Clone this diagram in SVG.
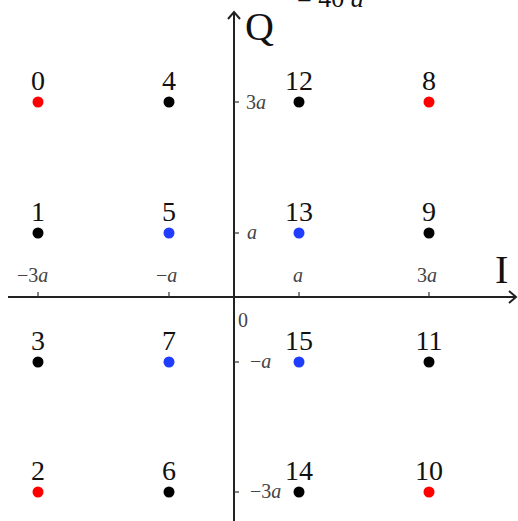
<svg xmlns="http://www.w3.org/2000/svg" width="518" height="521" viewBox="0 0 518 521">
<style>
.num{font-family:"Liberation Serif",serif;font-size:28px;fill:#111;text-anchor:middle}
.tk{font-family:"Liberation Serif",serif;font-size:20px;fill:#444}
.it{font-style:italic}
.ax{stroke:#222;stroke-width:2;fill:none}
.tick{stroke:#333;stroke-width:1.2}
.big{font-family:"Liberation Serif",serif;font-size:40px;fill:#111}
.r{fill:#ff0000}.b{fill:#000}.u{fill:#1f3cff}
</style>
<rect width="518" height="521" fill="#fff"/>
<text class="tk" x="297" y="7" style="font-size:26px;fill:#111">= 40 <tspan class="it">a</tspan></text>
<g id="connectors">
<line class="ax" x1="8" y1="297" x2="516" y2="297"/>
<path class="ax" d="M509,291 L516,297 L509,303" stroke-width="1.5"/>
<line class="ax" x1="234" y1="12" x2="234" y2="521"/>
<path class="ax" d="M228,19 L234,12 L240,19" stroke-width="1.5"/>
<g class="tick">
<line x1="38" y1="292" x2="38" y2="297"/><line x1="169" y1="292" x2="169" y2="297"/>
<line x1="299" y1="292" x2="299" y2="297"/><line x1="429" y1="292" x2="429" y2="297"/>
<line x1="234" y1="102" x2="239" y2="102"/><line x1="234" y1="233" x2="239" y2="233"/>
<line x1="234" y1="362" x2="239" y2="362"/><line x1="234" y1="492" x2="239" y2="492"/>
</g>
</g>
<g id="axis-labels">
<text class="big" x="245" y="40">Q</text>
<text class="big" x="495" y="283">I</text>
<text class="tk" x="238" y="327">0</text>
<text class="tk" x="17" y="282">−3<tspan class="it">a</tspan></text>
<text class="tk" x="156" y="282">−<tspan class="it">a</tspan></text>
<text class="tk it" x="293" y="282">a</text>
<text class="tk" x="417" y="282">3<tspan class="it">a</tspan></text>
<text class="tk" x="246" y="109">3<tspan class="it">a</tspan></text>
<text class="tk it" x="247" y="239">a</text>
<text class="tk" x="250" y="368">−<tspan class="it">a</tspan></text>
<text class="tk" x="250" y="498">−3<tspan class="it">a</tspan></text>
</g>
<g id="n0"><circle class="r" cx="38" cy="102" r="5.5"/><text class="num" x="38" y="90">0</text></g>
<g id="n4"><circle class="b" cx="169" cy="102" r="5.5"/><text class="num" x="169" y="90">4</text></g>
<g id="n12"><circle class="b" cx="299" cy="102" r="5.5"/><text class="num" x="299" y="90">12</text></g>
<g id="n8"><circle class="r" cx="429" cy="102" r="5.5"/><text class="num" x="429" y="90">8</text></g>
<g id="n1"><circle class="b" cx="38" cy="233" r="5.5"/><text class="num" x="38" y="221">1</text></g>
<g id="n5"><circle class="u" cx="169" cy="233" r="5.5"/><text class="num" x="169" y="221">5</text></g>
<g id="n13"><circle class="u" cx="299" cy="233" r="5.5"/><text class="num" x="299" y="221">13</text></g>
<g id="n9"><circle class="b" cx="429" cy="233" r="5.5"/><text class="num" x="429" y="221">9</text></g>
<g id="n3"><circle class="b" cx="38" cy="362" r="5.5"/><text class="num" x="38" y="350">3</text></g>
<g id="n7"><circle class="u" cx="169" cy="362" r="5.5"/><text class="num" x="169" y="350">7</text></g>
<g id="n15"><circle class="u" cx="299" cy="362" r="5.5"/><text class="num" x="299" y="350">15</text></g>
<g id="n11"><circle class="b" cx="429" cy="362" r="5.5"/><text class="num" x="429" y="350">11</text></g>
<g id="n2"><circle class="r" cx="38" cy="492" r="5.5"/><text class="num" x="38" y="480">2</text></g>
<g id="n6"><circle class="b" cx="169" cy="492" r="5.5"/><text class="num" x="169" y="480">6</text></g>
<g id="n14"><circle class="b" cx="299" cy="492" r="5.5"/><text class="num" x="299" y="480">14</text></g>
<g id="n10"><circle class="r" cx="429" cy="492" r="5.5"/><text class="num" x="429" y="480">10</text></g>
</svg>
